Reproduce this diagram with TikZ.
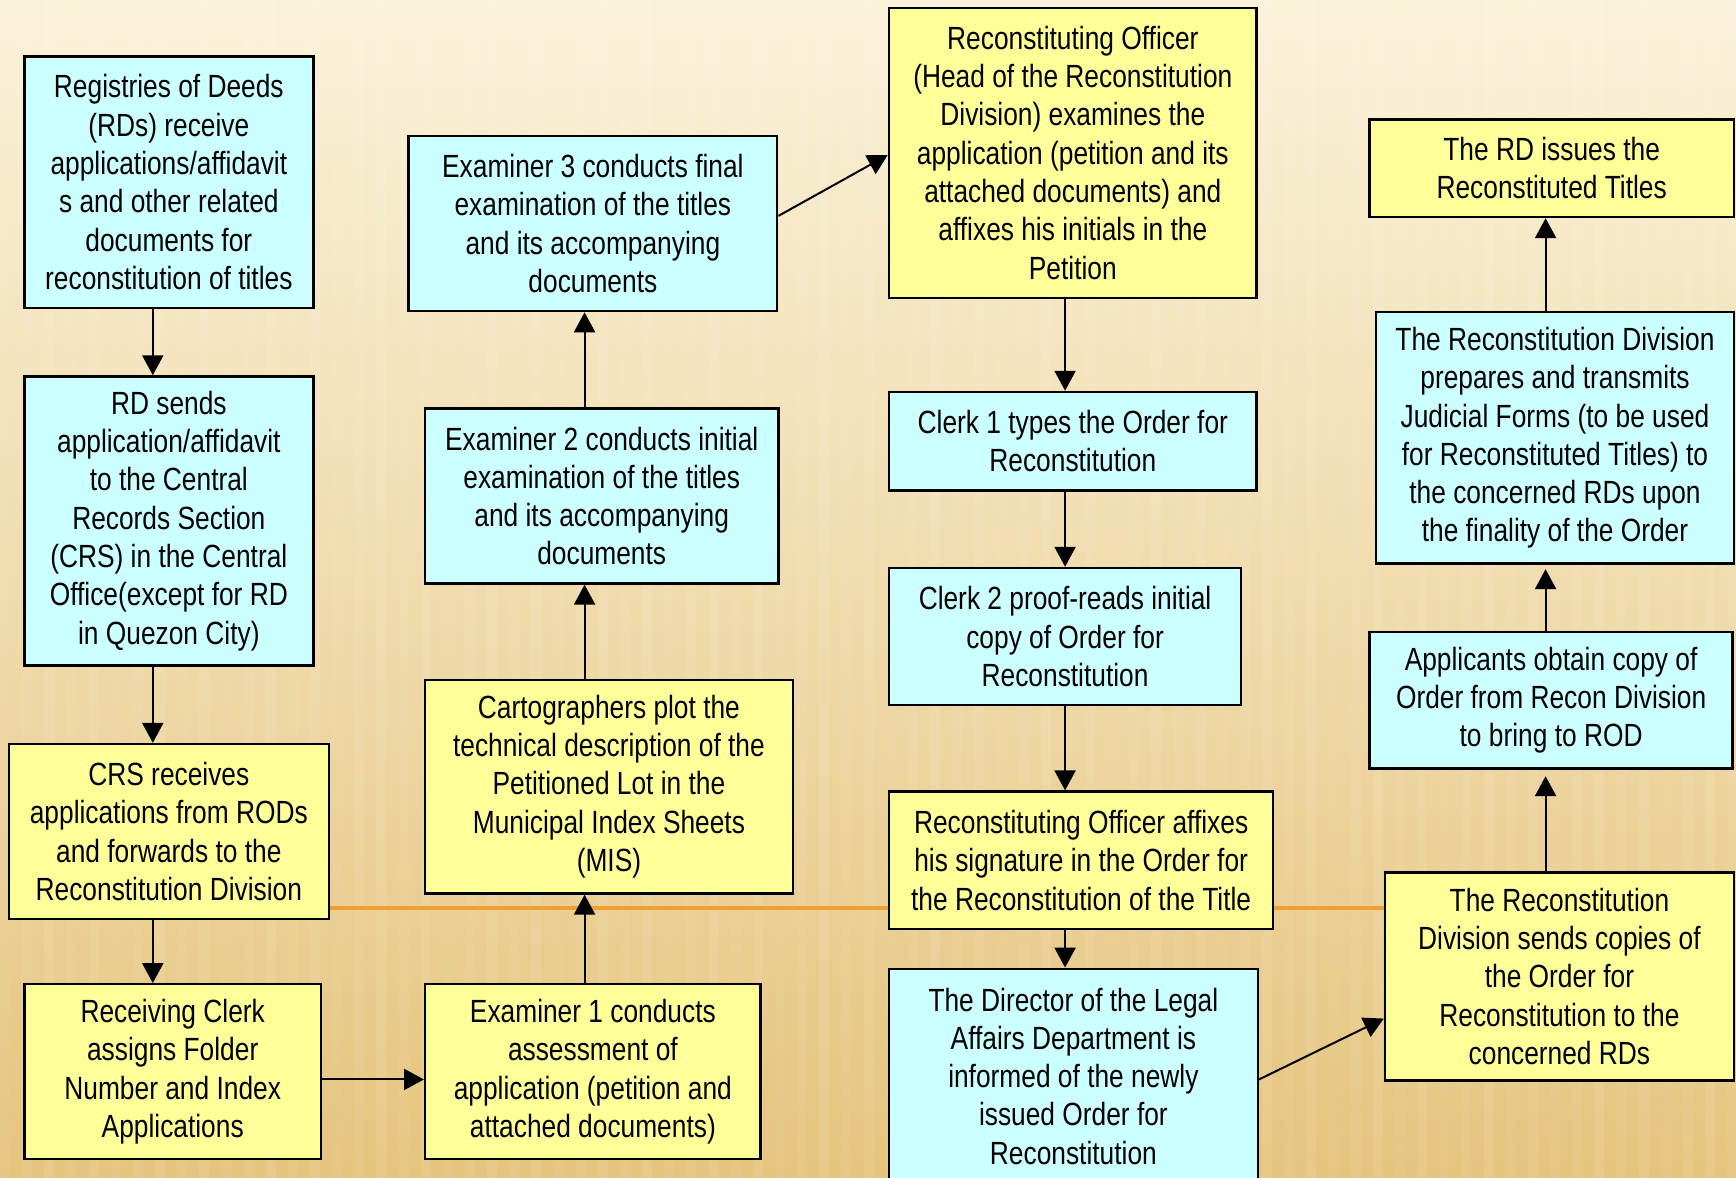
\documentclass[tikz,border=0pt]{standalone}
\usepackage{fontspec}
\setmainfont{Liberation Sans}[FakeStretch=0.82]
\usetikzlibrary{arrows.meta}
\definecolor{boxcyan}{HTML}{CCFFFF}
\definecolor{boxyellow}{HTML}{FFFF99}
\definecolor{bgtop}{HTML}{FBF2DA}
\definecolor{bgmid}{HTML}{F0DAA2}
\definecolor{bgbot}{HTML}{E5C47E}
\definecolor{linkorange}{HTML}{F0A030}
\pgfdeclarelayer{paper}
\pgfdeclarelayer{links}
\pgfsetlayers{paper,links,main}

% box given by its corners: name, style, x1, y1, x2, y2, text
\newcommand\flowbox[7]{%
  \node[#2, minimum width={(#5-#3)*0.5pt}, minimum height={(#6-#4)*0.5pt}]
    (#1) at ({(#3+#5)/2},{(#4+#6)/2}) {#7};}

\begin{document}
\begin{tikzpicture}[x=0.5pt,y=-0.5pt,
  stepbox/.style={draw=black, line width=1.1pt, inner sep=0pt, align=center,
    font=\fontsize{14.5}{17.3}\selectfont},
  cyanbox/.style={stepbox, fill=boxcyan},
  yellowbox/.style={stepbox, fill=boxyellow},
  arr/.style={-{Triangle[length=9pt,width=9.5pt]}, line width=0.9pt, black},
  link/.style={draw=linkorange, line width=1.6pt}]

\useasboundingbox (0,0) rectangle (1568,1064);
\clip (0,0) rectangle (1568,1064);

% paper background with soft streaks
\begin{pgfonlayer}{paper}
  \shade[top color=bgtop, middle color=bgmid, bottom color=bgbot] (0,0) rectangle (1568,1064);
  \foreach \i in {0,...,78} {
    \pgfmathsetmacro\op{0.04+0.06*mod(\i*7,5)/4}
    \fill[white, opacity=\op] (\i*20,0) rectangle (\i*20+9,1064);
  }
\end{pgfonlayer}

% helper lines for connector positions
\coordinate (colA) at (138,0);
\coordinate (colB) at (528,0);
\coordinate (colC) at (962,0);
\coordinate (colD) at (1396,0);
\coordinate (rowDE) at (0,975);
\coordinate (rowHa) at (0,195);
\coordinate (rowIa) at (0,140);
\coordinate (rowMa) at (0,975);
\coordinate (rowNa) at (0,920);
\coordinate (rowLink) at (0,820);

% first column
\flowbox{A}{cyanbox}{22}{51}{283}{278}{Registries of Deeds\\(RDs) receive\\applications/affidavit\\s and other related\\documents for\\reconstitution of titles}
\flowbox{B}{cyanbox}{22}{340}{283}{601}{RD sends\\application/affidavit\\to the Central\\Records Section\\(CRS) in the Central\\Office(except for RD\\in Quezon City)}
\flowbox{C}{yellowbox}{8}{672}{297}{830}{CRS receives\\applications from RODs\\and forwards to the\\Reconstitution Division}
\flowbox{D}{yellowbox}{22}{889}{290}{1047}{Receiving Clerk\\assigns Folder\\Number and Index\\Applications}

% second column
\flowbox{E}{yellowbox}{384}{889}{687}{1047}{Examiner 1 conducts\\assessment of\\application (petition and\\attached documents)}
\flowbox{F}{yellowbox}{384}{614}{716}{807}{Cartographers plot the\\technical description of the\\Petitioned Lot in the\\Municipal Index Sheets\\(MIS)}
\flowbox{G}{cyanbox}{384}{369}{703}{527}{Examiner 2 conducts initial\\examination of the titles\\and its accompanying\\documents}
\flowbox{H}{cyanbox}{369}{123}{702}{281}{Examiner 3 conducts final\\examination of the titles\\and its accompanying\\documents}

% third column
\flowbox{I}{yellowbox}{803}{7}{1135}{269}{Reconstituting Officer\\(Head of the Reconstitution\\Division) examines the\\application (petition and its\\attached documents) and\\affixes his initials in the\\Petition}
\flowbox{J}{cyanbox}{803}{354}{1135}{443}{Clerk 1 types the Order for\\Reconstitution}
\flowbox{K}{cyanbox}{803}{513}{1121}{637}{Clerk 2 proof-reads initial\\copy of Order for\\Reconstitution}
\flowbox{L}{yellowbox}{803}{715}{1150}{839}{Reconstituting Officer affixes\\his signature in the Order for\\the Reconstitution of the Title}
\flowbox{M}{cyanbox}{803}{875}{1136}{1069}{The Director of the Legal\\Affairs Department is\\informed of the newly\\issued Order for\\Reconstitution}

% fourth column
\flowbox{N}{yellowbox}{1251}{788}{1566}{976}{The Reconstitution\\Division sends copies of\\the Order for\\Reconstitution to the\\concerned RDs}
\flowbox{O}{cyanbox}{1237}{571}{1565}{694}{Applicants obtain copy of\\Order from Recon Division\\to bring to ROD}
\flowbox{P}{cyanbox}{1243}{282}{1566}{509}{The Reconstitution Division\\prepares and transmits\\Judicial Forms (to be used\\for Reconstituted Titles) to\\the concerned RDs upon\\the finality of the Order}
\flowbox{Q}{yellowbox}{1237}{108}{1566}{196}{The RD issues the\\Reconstituted Titles}

% orange link running behind the boxes
\begin{pgfonlayer}{links}
  \draw[link] (C.east |- rowLink) -- (N.west |- rowLink);
\end{pgfonlayer}

% flow connectors
\draw[arr] (A.south -| colA) -- (B.north -| colA);
\draw[arr] (B.south -| colA) -- (C.north -| colA);
\draw[arr] (C.south -| colA) -- (D.north -| colA);
\draw[arr] (D.east |- rowDE) -- (E.west |- rowDE);
\draw[arr] (E.north -| colB) -- (F.south -| colB);
\draw[arr] (F.north -| colB) -- (G.south -| colB);
\draw[arr] (G.north -| colB) -- (H.south -| colB);
\draw[arr] (H.east |- rowHa) -- (I.west |- rowIa);
\draw[arr] (I.south -| colC) -- (J.north -| colC);
\draw[arr] (J.south -| colC) -- (K.north -| colC);
\draw[arr] (K.south -| colC) -- (L.north -| colC);
\draw[arr] (L.south -| colC) -- (M.north -| colC);
\draw[arr] (M.east |- rowMa) -- (N.west |- rowNa);
\draw[arr, shorten >=3pt] (N.north -| colD) -- (O.south -| colD);
\draw[arr, shorten >=2pt] (O.north -| colD) -- (P.south -| colD);
\draw[arr] (P.north -| colD) -- (Q.south -| colD);
\end{tikzpicture}
\end{document}
